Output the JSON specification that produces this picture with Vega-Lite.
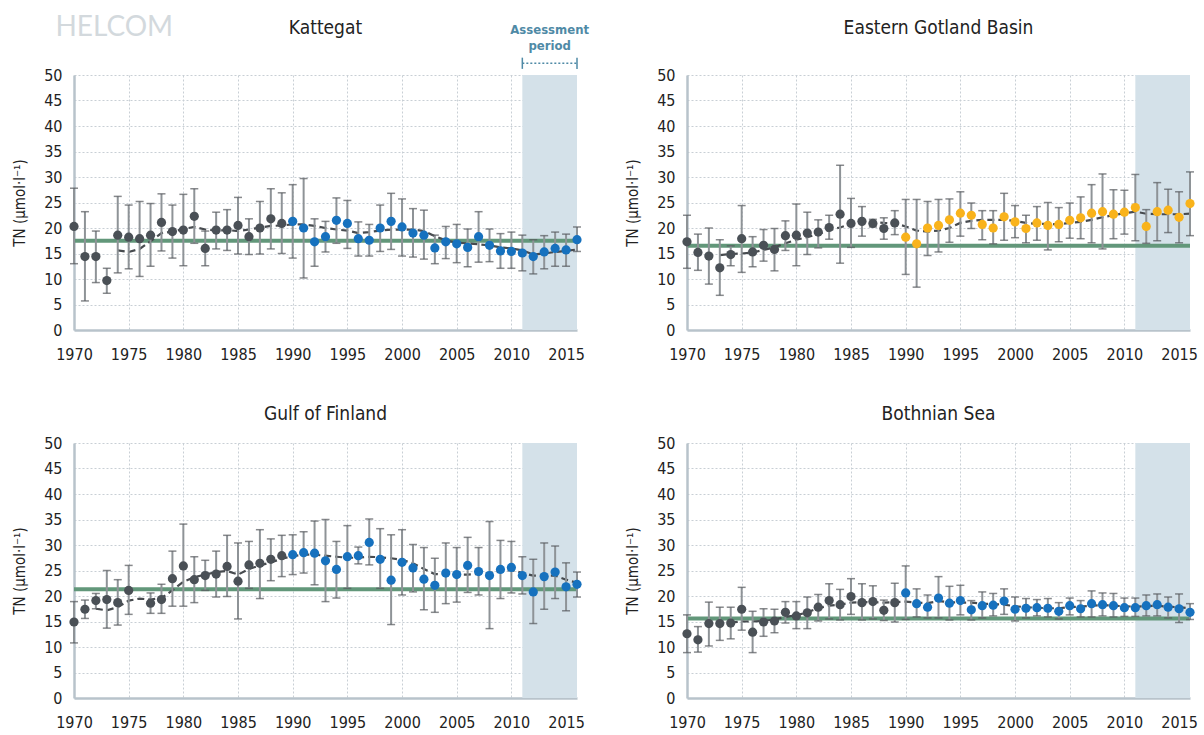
{
  "$schema": "https://vega.github.io/schema/vega-lite/v6.json",
  "padding": {"left": 12, "top": 14, "right": 5, "bottom": 5},
  "background": "white",
  "datasets": {
    "obs": [
      {"r":"K","y":1970,"v":20.3,"lo":13.0,"hi":27.8,"g":"a"},
      {"r":"K","y":1971,"v":14.4,"lo":5.7,"hi":23.2,"g":"a"},
      {"r":"K","y":1972,"v":14.4,"lo":9.3,"hi":19.4,"g":"a"},
      {"r":"K","y":1973,"v":9.7,"lo":7.2,"hi":12.1,"g":"a"},
      {"r":"K","y":1974,"v":18.6,"lo":11.2,"hi":26.2,"g":"a"},
      {"r":"K","y":1975,"v":18.2,"lo":12.0,"hi":24.5,"g":"a"},
      {"r":"K","y":1976,"v":17.9,"lo":10.5,"hi":25.2,"g":"a"},
      {"r":"K","y":1977,"v":18.6,"lo":12.5,"hi":24.8,"g":"a"},
      {"r":"K","y":1978,"v":21.1,"lo":15.5,"hi":26.7,"g":"a"},
      {"r":"K","y":1979,"v":19.3,"lo":14.1,"hi":24.5,"g":"a"},
      {"r":"K","y":1980,"v":19.6,"lo":12.6,"hi":26.6,"g":"a"},
      {"r":"K","y":1981,"v":22.3,"lo":17.0,"hi":27.7,"g":"a"},
      {"r":"K","y":1982,"v":16.0,"lo":12.6,"hi":19.4,"g":"a"},
      {"r":"K","y":1983,"v":19.6,"lo":15.9,"hi":23.1,"g":"a"},
      {"r":"K","y":1984,"v":19.6,"lo":15.6,"hi":23.6,"g":"a"},
      {"r":"K","y":1985,"v":20.5,"lo":14.9,"hi":26.0,"g":"a"},
      {"r":"K","y":1986,"v":18.3,"lo":14.8,"hi":21.8,"g":"a"},
      {"r":"K","y":1987,"v":20.0,"lo":14.9,"hi":25.2,"g":"a"},
      {"r":"K","y":1988,"v":21.8,"lo":15.9,"hi":27.7,"g":"a"},
      {"r":"K","y":1989,"v":20.9,"lo":15.0,"hi":26.9,"g":"a"},
      {"r":"K","y":1990,"v":21.3,"lo":14.1,"hi":28.5,"g":"b"},
      {"r":"K","y":1991,"v":20.0,"lo":10.2,"hi":29.7,"g":"b"},
      {"r":"K","y":1992,"v":17.3,"lo":12.5,"hi":21.8,"g":"b"},
      {"r":"K","y":1993,"v":18.3,"lo":15.3,"hi":21.3,"g":"b"},
      {"r":"K","y":1994,"v":21.5,"lo":17.0,"hi":25.9,"g":"b"},
      {"r":"K","y":1995,"v":20.9,"lo":16.0,"hi":25.4,"g":"b"},
      {"r":"K","y":1996,"v":17.9,"lo":14.5,"hi":21.2,"g":"b"},
      {"r":"K","y":1997,"v":17.6,"lo":14.5,"hi":20.7,"g":"b"},
      {"r":"K","y":1998,"v":20.0,"lo":15.4,"hi":24.5,"g":"b"},
      {"r":"K","y":1999,"v":21.3,"lo":15.8,"hi":26.8,"g":"b"},
      {"r":"K","y":2000,"v":20.2,"lo":14.5,"hi":25.7,"g":"b"},
      {"r":"K","y":2001,"v":19.0,"lo":14.3,"hi":23.8,"g":"b"},
      {"r":"K","y":2002,"v":18.6,"lo":13.9,"hi":23.5,"g":"b"},
      {"r":"K","y":2003,"v":16.1,"lo":13.0,"hi":18.6,"g":"b"},
      {"r":"K","y":2004,"v":17.3,"lo":14.0,"hi":20.3,"g":"b"},
      {"r":"K","y":2005,"v":16.9,"lo":13.2,"hi":20.7,"g":"b"},
      {"r":"K","y":2006,"v":16.2,"lo":12.4,"hi":19.8,"g":"b"},
      {"r":"K","y":2007,"v":18.3,"lo":13.3,"hi":23.2,"g":"b"},
      {"r":"K","y":2008,"v":16.6,"lo":13.4,"hi":19.8,"g":"b"},
      {"r":"K","y":2009,"v":15.5,"lo":12.1,"hi":18.9,"g":"b"},
      {"r":"K","y":2010,"v":15.4,"lo":12.1,"hi":19.2,"g":"b"},
      {"r":"K","y":2011,"v":15.1,"lo":11.6,"hi":18.6,"g":"b"},
      {"r":"K","y":2012,"v":14.4,"lo":11.0,"hi":17.7,"g":"b"},
      {"r":"K","y":2013,"v":15.3,"lo":12.0,"hi":18.5,"g":"b"},
      {"r":"K","y":2014,"v":16.0,"lo":12.5,"hi":19.2,"g":"b"},
      {"r":"K","y":2015,"v":15.7,"lo":12.5,"hi":18.8,"g":"b"},
      {"r":"K","y":2016,"v":17.7,"lo":15.4,"hi":20.2,"g":"b"},

      {"r":"E","y":1970,"v":17.3,"lo":12.1,"hi":22.5,"g":"a"},
      {"r":"E","y":1971,"v":15.2,"lo":11.7,"hi":18.8,"g":"a"},
      {"r":"E","y":1972,"v":14.5,"lo":9.0,"hi":20.0,"g":"a"},
      {"r":"E","y":1973,"v":12.2,"lo":6.8,"hi":17.7,"g":"a"},
      {"r":"E","y":1974,"v":14.8,"lo":12.6,"hi":16.5,"g":"a"},
      {"r":"E","y":1975,"v":17.9,"lo":11.3,"hi":24.4,"g":"a"},
      {"r":"E","y":1976,"v":15.3,"lo":12.4,"hi":18.3,"g":"a"},
      {"r":"E","y":1977,"v":16.6,"lo":13.5,"hi":19.7,"g":"a"},
      {"r":"E","y":1978,"v":15.8,"lo":11.6,"hi":19.9,"g":"a"},
      {"r":"E","y":1979,"v":18.5,"lo":15.6,"hi":21.4,"g":"a"},
      {"r":"E","y":1980,"v":18.6,"lo":12.6,"hi":24.7,"g":"a"},
      {"r":"E","y":1981,"v":19.0,"lo":14.8,"hi":23.1,"g":"a"},
      {"r":"E","y":1982,"v":19.2,"lo":16.1,"hi":21.6,"g":"a"},
      {"r":"E","y":1983,"v":20.1,"lo":17.8,"hi":22.5,"g":"a"},
      {"r":"E","y":1984,"v":22.7,"lo":13.1,"hi":32.3,"g":"a"},
      {"r":"E","y":1985,"v":20.9,"lo":16.2,"hi":25.8,"g":"a"},
      {"r":"E","y":1986,"v":21.3,"lo":18.4,"hi":24.2,"g":"a"},
      {"r":"E","y":1987,"v":20.9,"lo":20.2,"hi":21.7,"g":"a"},
      {"r":"E","y":1988,"v":19.9,"lo":17.8,"hi":22.0,"g":"a"},
      {"r":"E","y":1989,"v":21.0,"lo":18.7,"hi":23.4,"g":"a"},
      {"r":"E","y":1990,"v":18.2,"lo":10.9,"hi":25.6,"g":"c"},
      {"r":"E","y":1991,"v":16.9,"lo":8.4,"hi":25.6,"g":"c"},
      {"r":"E","y":1992,"v":20.0,"lo":14.6,"hi":25.2,"g":"c"},
      {"r":"E","y":1993,"v":20.5,"lo":15.3,"hi":25.6,"g":"c"},
      {"r":"E","y":1994,"v":21.6,"lo":17.2,"hi":25.7,"g":"c"},
      {"r":"E","y":1995,"v":22.9,"lo":18.4,"hi":27.1,"g":"c"},
      {"r":"E","y":1996,"v":22.5,"lo":19.9,"hi":24.9,"g":"c"},
      {"r":"E","y":1997,"v":20.7,"lo":17.7,"hi":23.4,"g":"c"},
      {"r":"E","y":1998,"v":20.0,"lo":16.9,"hi":23.4,"g":"c"},
      {"r":"E","y":1999,"v":22.2,"lo":17.6,"hi":26.8,"g":"c"},
      {"r":"E","y":2000,"v":21.2,"lo":18.1,"hi":24.4,"g":"c"},
      {"r":"E","y":2001,"v":19.9,"lo":17.1,"hi":22.5,"g":"c"},
      {"r":"E","y":2002,"v":21.0,"lo":17.6,"hi":24.2,"g":"c"},
      {"r":"E","y":2003,"v":20.5,"lo":15.7,"hi":25.0,"g":"c"},
      {"r":"E","y":2004,"v":20.7,"lo":17.3,"hi":24.0,"g":"c"},
      {"r":"E","y":2005,"v":21.5,"lo":18.0,"hi":24.9,"g":"c"},
      {"r":"E","y":2006,"v":22.0,"lo":17.9,"hi":26.1,"g":"c"},
      {"r":"E","y":2007,"v":22.9,"lo":17.1,"hi":28.5,"g":"c"},
      {"r":"E","y":2008,"v":23.2,"lo":15.9,"hi":30.6,"g":"c"},
      {"r":"E","y":2009,"v":22.7,"lo":17.9,"hi":27.5,"g":"c"},
      {"r":"E","y":2010,"v":23.1,"lo":18.8,"hi":27.4,"g":"c"},
      {"r":"E","y":2011,"v":24.0,"lo":17.5,"hi":30.5,"g":"c"},
      {"r":"E","y":2012,"v":20.3,"lo":17.0,"hi":23.6,"g":"c"},
      {"r":"E","y":2013,"v":23.2,"lo":17.5,"hi":28.9,"g":"c"},
      {"r":"E","y":2014,"v":23.5,"lo":19.1,"hi":27.6,"g":"c"},
      {"r":"E","y":2015,"v":22.1,"lo":17.1,"hi":27.1,"g":"c"},
      {"r":"E","y":2016,"v":24.8,"lo":18.5,"hi":31.0,"g":"c"},

      {"r":"G","y":1970,"v":14.9,"lo":10.8,"hi":18.9,"g":"a"},
      {"r":"G","y":1971,"v":17.4,"lo":15.6,"hi":19.2,"g":"a"},
      {"r":"G","y":1972,"v":19.1,"lo":17.5,"hi":20.5,"g":"a"},
      {"r":"G","y":1973,"v":19.3,"lo":13.7,"hi":25.0,"g":"a"},
      {"r":"G","y":1974,"v":18.7,"lo":14.3,"hi":23.2,"g":"a"},
      {"r":"G","y":1975,"v":21.1,"lo":16.4,"hi":26.0,"g":"a"},
      {"r":"G","y":1977,"v":18.6,"lo":16.6,"hi":20.6,"g":"a"},
      {"r":"G","y":1978,"v":19.3,"lo":16.6,"hi":22.3,"g":"a"},
      {"r":"G","y":1979,"v":23.4,"lo":18.0,"hi":28.8,"g":"a"},
      {"r":"G","y":1980,"v":25.9,"lo":18.0,"hi":34.1,"g":"a"},
      {"r":"G","y":1981,"v":23.2,"lo":18.7,"hi":27.7,"g":"a"},
      {"r":"G","y":1982,"v":24.0,"lo":21.1,"hi":27.0,"g":"a"},
      {"r":"G","y":1983,"v":24.3,"lo":19.8,"hi":28.8,"g":"a"},
      {"r":"G","y":1984,"v":25.8,"lo":19.9,"hi":31.9,"g":"a"},
      {"r":"G","y":1985,"v":22.9,"lo":15.5,"hi":30.4,"g":"a"},
      {"r":"G","y":1986,"v":26.1,"lo":21.5,"hi":30.7,"g":"a"},
      {"r":"G","y":1987,"v":26.4,"lo":19.5,"hi":33.0,"g":"a"},
      {"r":"G","y":1988,"v":27.2,"lo":23.0,"hi":31.2,"g":"a"},
      {"r":"G","y":1989,"v":27.9,"lo":23.8,"hi":31.9,"g":"a"},
      {"r":"G","y":1990,"v":28.1,"lo":24.2,"hi":32.0,"g":"b"},
      {"r":"G","y":1991,"v":28.5,"lo":24.5,"hi":32.6,"g":"b"},
      {"r":"G","y":1992,"v":28.4,"lo":22.2,"hi":34.7,"g":"b"},
      {"r":"G","y":1993,"v":26.9,"lo":18.9,"hi":35.0,"g":"b"},
      {"r":"G","y":1994,"v":25.2,"lo":19.6,"hi":30.7,"g":"b"},
      {"r":"G","y":1995,"v":27.7,"lo":21.5,"hi":33.8,"g":"b"},
      {"r":"G","y":1996,"v":27.9,"lo":26.3,"hi":29.6,"g":"b"},
      {"r":"G","y":1997,"v":30.5,"lo":26.1,"hi":35.1,"g":"b"},
      {"r":"G","y":1998,"v":27.2,"lo":21.5,"hi":33.2,"g":"b"},
      {"r":"G","y":1999,"v":23.1,"lo":14.4,"hi":32.0,"g":"b"},
      {"r":"G","y":2000,"v":26.6,"lo":20.2,"hi":33.0,"g":"b"},
      {"r":"G","y":2001,"v":25.5,"lo":20.8,"hi":30.1,"g":"b"},
      {"r":"G","y":2002,"v":23.3,"lo":17.3,"hi":29.5,"g":"b"},
      {"r":"G","y":2003,"v":22.1,"lo":16.8,"hi":27.4,"g":"b"},
      {"r":"G","y":2004,"v":24.5,"lo":18.5,"hi":30.4,"g":"b"},
      {"r":"G","y":2005,"v":24.2,"lo":18.8,"hi":29.5,"g":"b"},
      {"r":"G","y":2006,"v":26.0,"lo":20.7,"hi":31.5,"g":"b"},
      {"r":"G","y":2007,"v":24.8,"lo":20.2,"hi":29.5,"g":"b"},
      {"r":"G","y":2008,"v":24.0,"lo":13.6,"hi":34.6,"g":"b"},
      {"r":"G","y":2009,"v":25.2,"lo":19.5,"hi":30.9,"g":"b"},
      {"r":"G","y":2010,"v":25.6,"lo":20.6,"hi":30.7,"g":"b"},
      {"r":"G","y":2011,"v":24.0,"lo":20.4,"hi":27.7,"g":"b"},
      {"r":"G","y":2012,"v":20.8,"lo":14.6,"hi":27.2,"g":"b"},
      {"r":"G","y":2013,"v":23.8,"lo":17.4,"hi":30.4,"g":"b"},
      {"r":"G","y":2014,"v":24.7,"lo":19.5,"hi":29.8,"g":"b"},
      {"r":"G","y":2015,"v":21.8,"lo":17.1,"hi":26.5,"g":"b"},
      {"r":"G","y":2016,"v":22.3,"lo":19.8,"hi":24.7,"g":"b"},

      {"r":"B","y":1970,"v":12.6,"lo":8.9,"hi":16.3,"g":"a"},
      {"r":"B","y":1971,"v":11.4,"lo":9.0,"hi":14.0,"g":"a"},
      {"r":"B","y":1972,"v":14.6,"lo":10.2,"hi":18.8,"g":"a"},
      {"r":"B","y":1973,"v":14.6,"lo":11.3,"hi":17.8,"g":"a"},
      {"r":"B","y":1974,"v":14.7,"lo":11.6,"hi":17.8,"g":"a"},
      {"r":"B","y":1975,"v":17.4,"lo":13.3,"hi":21.7,"g":"a"},
      {"r":"B","y":1976,"v":12.9,"lo":8.9,"hi":17.0,"g":"a"},
      {"r":"B","y":1977,"v":14.9,"lo":12.1,"hi":17.5,"g":"a"},
      {"r":"B","y":1978,"v":15.1,"lo":12.8,"hi":17.4,"g":"a"},
      {"r":"B","y":1979,"v":16.8,"lo":14.7,"hi":18.9,"g":"a"},
      {"r":"B","y":1980,"v":16.1,"lo":13.6,"hi":18.9,"g":"a"},
      {"r":"B","y":1981,"v":16.7,"lo":13.6,"hi":19.8,"g":"a"},
      {"r":"B","y":1982,"v":17.8,"lo":15.1,"hi":20.3,"g":"a"},
      {"r":"B","y":1983,"v":19.1,"lo":15.5,"hi":22.4,"g":"a"},
      {"r":"B","y":1984,"v":18.3,"lo":15.3,"hi":21.3,"g":"a"},
      {"r":"B","y":1985,"v":19.9,"lo":16.4,"hi":23.4,"g":"a"},
      {"r":"B","y":1986,"v":18.7,"lo":15.3,"hi":22.4,"g":"a"},
      {"r":"B","y":1987,"v":18.9,"lo":15.5,"hi":22.0,"g":"a"},
      {"r":"B","y":1988,"v":17.2,"lo":15.2,"hi":19.2,"g":"a"},
      {"r":"B","y":1989,"v":18.7,"lo":14.9,"hi":22.5,"g":"a"},
      {"r":"B","y":1990,"v":20.6,"lo":15.4,"hi":25.9,"g":"b"},
      {"r":"B","y":1991,"v":18.5,"lo":15.9,"hi":21.4,"g":"b"},
      {"r":"B","y":1992,"v":17.8,"lo":15.7,"hi":20.2,"g":"b"},
      {"r":"B","y":1993,"v":19.6,"lo":15.7,"hi":23.8,"g":"b"},
      {"r":"B","y":1994,"v":18.6,"lo":15.3,"hi":21.9,"g":"b"},
      {"r":"B","y":1995,"v":19.1,"lo":16.3,"hi":22.1,"g":"b"},
      {"r":"B","y":1996,"v":17.3,"lo":15.3,"hi":19.1,"g":"b"},
      {"r":"B","y":1997,"v":18.1,"lo":15.7,"hi":20.8,"g":"b"},
      {"r":"B","y":1998,"v":18.2,"lo":16.1,"hi":20.5,"g":"b"},
      {"r":"B","y":1999,"v":19.0,"lo":16.4,"hi":21.4,"g":"b"},
      {"r":"B","y":2000,"v":17.4,"lo":15.1,"hi":19.8,"g":"b"},
      {"r":"B","y":2001,"v":17.6,"lo":15.7,"hi":19.5,"g":"b"},
      {"r":"B","y":2002,"v":17.7,"lo":16.1,"hi":19.3,"g":"b"},
      {"r":"B","y":2003,"v":17.6,"lo":15.9,"hi":19.5,"g":"b"},
      {"r":"B","y":2004,"v":17.0,"lo":15.5,"hi":18.7,"g":"b"},
      {"r":"B","y":2005,"v":18.1,"lo":16.3,"hi":19.6,"g":"b"},
      {"r":"B","y":2006,"v":17.5,"lo":15.9,"hi":19.1,"g":"b"},
      {"r":"B","y":2007,"v":18.5,"lo":15.9,"hi":21.0,"g":"b"},
      {"r":"B","y":2008,"v":18.3,"lo":16.1,"hi":20.6,"g":"b"},
      {"r":"B","y":2009,"v":18.1,"lo":15.9,"hi":20.5,"g":"b"},
      {"r":"B","y":2010,"v":17.7,"lo":16.0,"hi":19.6,"g":"b"},
      {"r":"B","y":2011,"v":17.7,"lo":16.0,"hi":19.6,"g":"b"},
      {"r":"B","y":2012,"v":18.1,"lo":16.1,"hi":20.2,"g":"b"},
      {"r":"B","y":2013,"v":18.3,"lo":16.1,"hi":20.4,"g":"b"},
      {"r":"B","y":2014,"v":17.8,"lo":15.7,"hi":19.8,"g":"b"},
      {"r":"B","y":2015,"v":17.5,"lo":14.8,"hi":20.4,"g":"b"},
      {"r":"B","y":2016,"v":16.8,"lo":15.4,"hi":18.5,"g":"b"}
    ],
    "trend": [
      {"r":"K","y":1974,"t":15.6},{"r":"K","y":1975,"t":15.3},{"r":"K","y":1976,"t":15.9},{"r":"K","y":1977,"t":17.4},{"r":"K","y":1978,"t":19.0},{"r":"K","y":1979,"t":19.3},{"r":"K","y":1980,"t":19.8},{"r":"K","y":1981,"t":20.2},{"r":"K","y":1982,"t":19.7},{"r":"K","y":1983,"t":19.5},{"r":"K","y":1984,"t":19.6},{"r":"K","y":1985,"t":19.4},{"r":"K","y":1986,"t":19.7},{"r":"K","y":1987,"t":20.1},{"r":"K","y":1988,"t":20.4},{"r":"K","y":1989,"t":20.5},{"r":"K","y":1990,"t":20.7},{"r":"K","y":1991,"t":20.7},{"r":"K","y":1992,"t":20.4},{"r":"K","y":1993,"t":20.0},{"r":"K","y":1994,"t":19.7},{"r":"K","y":1995,"t":19.5},{"r":"K","y":1996,"t":19.0},{"r":"K","y":1997,"t":19.2},{"r":"K","y":1998,"t":19.5},{"r":"K","y":1999,"t":19.7},{"r":"K","y":2000,"t":19.7},{"r":"K","y":2001,"t":19.7},{"r":"K","y":2002,"t":19.4},{"r":"K","y":2003,"t":18.4},{"r":"K","y":2004,"t":17.6},{"r":"K","y":2005,"t":17.1},{"r":"K","y":2006,"t":17.0},{"r":"K","y":2007,"t":16.8},{"r":"K","y":2008,"t":16.6},{"r":"K","y":2009,"t":16.2},{"r":"K","y":2010,"t":16.0},{"r":"K","y":2011,"t":15.6},{"r":"K","y":2012,"t":14.8},{"r":"K","y":2013,"t":15.0},{"r":"K","y":2014,"t":15.3},{"r":"K","y":2015,"t":15.5},{"r":"K","y":2016,"t":15.8},
      {"r":"E","y":1973,"t":14.7},{"r":"E","y":1974,"t":14.9},{"r":"E","y":1975,"t":15.0},{"r":"E","y":1976,"t":15.2},{"r":"E","y":1977,"t":15.7},{"r":"E","y":1978,"t":16.2},{"r":"E","y":1979,"t":17.0},{"r":"E","y":1980,"t":17.7},{"r":"E","y":1981,"t":18.2},{"r":"E","y":1982,"t":18.8},{"r":"E","y":1983,"t":19.6},{"r":"E","y":1984,"t":20.1},{"r":"E","y":1985,"t":20.8},{"r":"E","y":1986,"t":21.2},{"r":"E","y":1987,"t":21.2},{"r":"E","y":1988,"t":21.0},{"r":"E","y":1989,"t":20.9},{"r":"E","y":1990,"t":20.3},{"r":"E","y":1991,"t":19.5},{"r":"E","y":1992,"t":19.3},{"r":"E","y":1993,"t":19.5},{"r":"E","y":1994,"t":20.0},{"r":"E","y":1995,"t":21.0},{"r":"E","y":1996,"t":21.4},{"r":"E","y":1997,"t":21.6},{"r":"E","y":1998,"t":21.6},{"r":"E","y":1999,"t":21.6},{"r":"E","y":2000,"t":21.4},{"r":"E","y":2001,"t":21.0},{"r":"E","y":2002,"t":20.8},{"r":"E","y":2003,"t":20.8},{"r":"E","y":2004,"t":20.7},{"r":"E","y":2005,"t":21.0},{"r":"E","y":2006,"t":21.2},{"r":"E","y":2007,"t":21.6},{"r":"E","y":2008,"t":22.1},{"r":"E","y":2009,"t":22.5},{"r":"E","y":2010,"t":22.9},{"r":"E","y":2011,"t":23.2},{"r":"E","y":2012,"t":22.8},{"r":"E","y":2013,"t":22.7},{"r":"E","y":2014,"t":22.7},{"r":"E","y":2015,"t":22.7},{"r":"E","y":2016,"t":22.8},
      {"r":"G","y":1972,"t":17.5},{"r":"G","y":1973,"t":17.2},{"r":"G","y":1974,"t":17.8},{"r":"G","y":1975,"t":19.1},{"r":"G","y":1976,"t":19.5},{"r":"G","y":1977,"t":19.3},{"r":"G","y":1978,"t":19.6},{"r":"G","y":1979,"t":21.1},{"r":"G","y":1980,"t":22.8},{"r":"G","y":1981,"t":23.7},{"r":"G","y":1982,"t":24.2},{"r":"G","y":1983,"t":24.7},{"r":"G","y":1984,"t":24.9},{"r":"G","y":1985,"t":24.2},{"r":"G","y":1986,"t":25.3},{"r":"G","y":1987,"t":26.0},{"r":"G","y":1988,"t":26.6},{"r":"G","y":1989,"t":27.3},{"r":"G","y":1990,"t":27.8},{"r":"G","y":1991,"t":28.1},{"r":"G","y":1992,"t":28.1},{"r":"G","y":1993,"t":27.9},{"r":"G","y":1994,"t":27.7},{"r":"G","y":1995,"t":27.5},{"r":"G","y":1996,"t":27.5},{"r":"G","y":1997,"t":27.7},{"r":"G","y":1998,"t":27.6},{"r":"G","y":1999,"t":27.4},{"r":"G","y":2000,"t":27.1},{"r":"G","y":2001,"t":26.4},{"r":"G","y":2002,"t":25.3},{"r":"G","y":2003,"t":24.3},{"r":"G","y":2004,"t":24.2},{"r":"G","y":2005,"t":24.2},{"r":"G","y":2006,"t":24.2},{"r":"G","y":2007,"t":24.3},{"r":"G","y":2008,"t":24.5},{"r":"G","y":2009,"t":24.8},{"r":"G","y":2010,"t":25.1},{"r":"G","y":2011,"t":24.5},{"r":"G","y":2012,"t":24.0},{"r":"G","y":2013,"t":24.0},{"r":"G","y":2014,"t":24.0},{"r":"G","y":2015,"t":23.2},{"r":"G","y":2016,"t":22.6},
      {"r":"B","y":1974,"t":14.8},{"r":"B","y":1975,"t":15.0},{"r":"B","y":1976,"t":15.0},{"r":"B","y":1977,"t":15.1},{"r":"B","y":1978,"t":15.4},{"r":"B","y":1979,"t":15.9},{"r":"B","y":1980,"t":16.2},{"r":"B","y":1981,"t":16.8},{"r":"B","y":1982,"t":17.6},{"r":"B","y":1983,"t":18.1},{"r":"B","y":1984,"t":18.3},{"r":"B","y":1985,"t":18.7},{"r":"B","y":1986,"t":18.8},{"r":"B","y":1987,"t":18.8},{"r":"B","y":1988,"t":18.7},{"r":"B","y":1989,"t":18.8},{"r":"B","y":1990,"t":18.9},{"r":"B","y":1991,"t":18.7},{"r":"B","y":1992,"t":18.6},{"r":"B","y":1993,"t":19.0},{"r":"B","y":1994,"t":18.8},{"r":"B","y":1995,"t":18.7},{"r":"B","y":1996,"t":18.7},{"r":"B","y":1997,"t":18.5},{"r":"B","y":1998,"t":18.4},{"r":"B","y":1999,"t":18.3},{"r":"B","y":2000,"t":18.0},{"r":"B","y":2001,"t":17.8},{"r":"B","y":2002,"t":17.7},{"r":"B","y":2003,"t":17.6},{"r":"B","y":2004,"t":17.6},{"r":"B","y":2005,"t":17.8},{"r":"B","y":2006,"t":17.9},{"r":"B","y":2007,"t":18.1},{"r":"B","y":2008,"t":18.2},{"r":"B","y":2009,"t":18.1},{"r":"B","y":2010,"t":18.0},{"r":"B","y":2011,"t":17.9},{"r":"B","y":2012,"t":18.0},{"r":"B","y":2013,"t":18.1},{"r":"B","y":2014,"t":17.9},{"r":"B","y":2015,"t":17.8},{"r":"B","y":2016,"t":17.6}
    ],
    "thr": [
      {"r":"K","v":17.5},{"r":"E","v":16.5},{"r":"G","v":21.3},{"r":"B","v":15.6}
    ]
  },
  "columns": 2,
  "spacing": {"row": 42, "column": 35},
  "concat": [
    {
      "width": 503, "height": 255,
      "layer": [
        {"data": {"values": [{}]}, "mark": {"type": "rect", "color": "#d4e1e9"},
         "encoding": {"x": {"datum": 2011, "type": "quantitative", "scale": {"domain": [1970, 2016], "nice": false, "zero": false}, "axis": {"values": [1970,1975,1980,1985,1990,1995,2000,2005,2010,2015], "format": "d", "title": null}}, "x2": {"datum": 2016}}},
        {"data": {"name": "thr"}, "transform": [{"filter": "datum.r == 'K'"}], "mark": {"type": "rule", "color": "#62977a", "strokeWidth": 4},
         "encoding": {"y": {"field": "v", "type": "quantitative", "scale": {"domain": [0, 50], "nice": false, "zero": false}, "axis": {"values": [0,5,10,15,20,25,30,35,40,45,50], "title": "TN (µmol·l⁻¹)"}}}},
        {"data": {"name": "trend"}, "transform": [{"filter": "datum.r == 'K'"}], "mark": {"type": "line", "color": "#474b4f", "strokeWidth": 2.2, "strokeDash": [7, 4]},
         "encoding": {"x": {"field": "y", "type": "quantitative", "scale": {"domain": [1970, 2016], "nice": false, "zero": false}, "axis": {"values": [1970,1975,1980,1985,1990,1995,2000,2005,2010,2015], "format": "d", "title": null}}, "y": {"field": "t", "type": "quantitative", "scale": {"domain": [0, 50], "nice": false, "zero": false}, "axis": {"values": [0,5,10,15,20,25,30,35,40,45,50], "title": "TN (µmol·l⁻¹)"}}}},
        {"data": {"name": "obs"}, "transform": [{"filter": "datum.r == 'K'"}], "mark": {"type": "rule", "color": "#8e9397", "strokeWidth": 2},
         "encoding": {"x": {"field": "y", "type": "quantitative", "scale": {"domain": [1970, 2016], "nice": false, "zero": false}, "axis": {"values": [1970,1975,1980,1985,1990,1995,2000,2005,2010,2015], "format": "d", "title": null}}, "y": {"field": "lo", "type": "quantitative", "scale": {"domain": [0, 50], "nice": false, "zero": false}, "axis": {"values": [0,5,10,15,20,25,30,35,40,45,50], "title": "TN (µmol·l⁻¹)"}}, "y2": {"field": "hi"}}},
        {"data": {"name": "obs"}, "transform": [{"filter": "datum.r == 'K'"}], "mark": {"type": "tick", "orient": "horizontal", "color": "#55595d", "thickness": 1.5, "size": 8},
         "encoding": {"x": {"field": "y", "type": "quantitative", "scale": {"domain": [1970, 2016], "nice": false, "zero": false}, "axis": {"values": [1970,1975,1980,1985,1990,1995,2000,2005,2010,2015], "format": "d", "title": null}}, "y": {"field": "lo", "type": "quantitative", "scale": {"domain": [0, 50], "nice": false, "zero": false}, "axis": {"values": [0,5,10,15,20,25,30,35,40,45,50], "title": "TN (µmol·l⁻¹)"}}}},
        {"data": {"name": "obs"}, "transform": [{"filter": "datum.r == 'K'"}], "mark": {"type": "tick", "orient": "horizontal", "color": "#55595d", "thickness": 1.5, "size": 8},
         "encoding": {"x": {"field": "y", "type": "quantitative", "scale": {"domain": [1970, 2016], "nice": false, "zero": false}, "axis": {"values": [1970,1975,1980,1985,1990,1995,2000,2005,2010,2015], "format": "d", "title": null}}, "y": {"field": "hi", "type": "quantitative", "scale": {"domain": [0, 50], "nice": false, "zero": false}, "axis": {"values": [0,5,10,15,20,25,30,35,40,45,50], "title": "TN (µmol·l⁻¹)"}}}},
        {"data": {"name": "obs"}, "transform": [{"filter": "datum.r == 'K'"}], "mark": {"type": "circle", "size": 85, "opacity": 1},
         "encoding": {
           "x": {"field": "y", "type": "quantitative", "scale": {"domain": [1970, 2016], "nice": false, "zero": false}, "axis": {"values": [1970,1975,1980,1985,1990,1995,2000,2005,2010,2015], "format": "d", "title": null}},
           "y": {"field": "v", "type": "quantitative", "scale": {"domain": [0, 50], "nice": false, "zero": false}, "axis": {"values": [0,5,10,15,20,25,30,35,40,45,50], "title": "TN (µmol·l⁻¹)"}},
           "color": {"field": "g", "type": "nominal", "scale": {"domain": ["a","b","c"], "range": ["#4a5056","#1671be","#f9b31b"]}, "legend": null}}},
        {"data": {"values": [{}]}, "mark": {"type": "text", "text": "Kattegat", "fontSize": 19, "fontWeight": 500, "color": "#222222", "baseline": "middle"},
         "encoding": {"x": {"datum": 1993, "type": "quantitative", "scale": {"domain": [1970, 2016], "nice": false, "zero": false}, "axis": {"values": [1970,1975,1980,1985,1990,1995,2000,2005,2010,2015], "format": "d", "title": null}}, "y": {"datum": 59.2, "type": "quantitative", "scale": {"domain": [0, 50], "nice": false, "zero": false}, "axis": {"values": [0,5,10,15,20,25,30,35,40,45,50], "title": "TN (µmol·l⁻¹)"}}}},
        {"data": {"values": [{}]}, "mark": {"type": "text", "text": "Assessment", "fontWeight": "bold", "fontSize": 13, "color": "#4f8aa6", "baseline": "middle"},
         "encoding": {"x": {"datum": 2013.5, "type": "quantitative", "scale": {"domain": [1970, 2016], "nice": false, "zero": false}, "axis": {"values": [1970,1975,1980,1985,1990,1995,2000,2005,2010,2015], "format": "d", "title": null}}, "y": {"datum": 58.8, "type": "quantitative", "scale": {"domain": [0, 50], "nice": false, "zero": false}, "axis": {"values": [0,5,10,15,20,25,30,35,40,45,50], "title": "TN (µmol·l⁻¹)"}}}},
        {"data": {"values": [{}]}, "mark": {"type": "text", "text": "period", "fontWeight": "bold", "fontSize": 13, "color": "#4f8aa6", "baseline": "middle"},
         "encoding": {"x": {"datum": 2013.5, "type": "quantitative", "scale": {"domain": [1970, 2016], "nice": false, "zero": false}, "axis": {"values": [1970,1975,1980,1985,1990,1995,2000,2005,2010,2015], "format": "d", "title": null}}, "y": {"datum": 55.6, "type": "quantitative", "scale": {"domain": [0, 50], "nice": false, "zero": false}, "axis": {"values": [0,5,10,15,20,25,30,35,40,45,50], "title": "TN (µmol·l⁻¹)"}}}},
        {"data": {"values": [{}]}, "mark": {"type": "rule", "color": "#4f8aa6", "strokeWidth": 1.5, "strokeDash": [2, 2]},
         "encoding": {"x": {"datum": 2011, "type": "quantitative", "scale": {"domain": [1970, 2016], "nice": false, "zero": false}, "axis": {"values": [1970,1975,1980,1985,1990,1995,2000,2005,2010,2015], "format": "d", "title": null}}, "x2": {"datum": 2016}, "y": {"datum": 52.3, "type": "quantitative", "scale": {"domain": [0, 50], "nice": false, "zero": false}, "axis": {"values": [0,5,10,15,20,25,30,35,40,45,50], "title": "TN (µmol·l⁻¹)"}}}},
        {"data": {"values": [{}]}, "mark": {"type": "rule", "color": "#4f8aa6", "strokeWidth": 1.5},
         "encoding": {"x": {"datum": 2011, "type": "quantitative", "scale": {"domain": [1970, 2016], "nice": false, "zero": false}, "axis": {"values": [1970,1975,1980,1985,1990,1995,2000,2005,2010,2015], "format": "d", "title": null}}, "y": {"datum": 51.2, "type": "quantitative", "scale": {"domain": [0, 50], "nice": false, "zero": false}, "axis": {"values": [0,5,10,15,20,25,30,35,40,45,50], "title": "TN (µmol·l⁻¹)"}}, "y2": {"datum": 53.4}}},
        {"data": {"values": [{}]}, "mark": {"type": "rule", "color": "#4f8aa6", "strokeWidth": 1.5},
         "encoding": {"x": {"datum": 2016, "type": "quantitative", "scale": {"domain": [1970, 2016], "nice": false, "zero": false}, "axis": {"values": [1970,1975,1980,1985,1990,1995,2000,2005,2010,2015], "format": "d", "title": null}}, "y": {"datum": 51.2, "type": "quantitative", "scale": {"domain": [0, 50], "nice": false, "zero": false}, "axis": {"values": [0,5,10,15,20,25,30,35,40,45,50], "title": "TN (µmol·l⁻¹)"}}, "y2": {"datum": 53.4}}},
        {"data": {"values": [{}]}, "mark": {"type": "text", "text": "HELCOM", "fontSize": 28, "font": "Lato", "color": "#d3d9dd", "align": "left", "baseline": "middle"},
         "encoding": {"x": {"datum": 1968.3, "type": "quantitative", "scale": {"domain": [1970, 2016], "nice": false, "zero": false}, "axis": {"values": [1970,1975,1980,1985,1990,1995,2000,2005,2010,2015], "format": "d", "title": null}}, "y": {"datum": 59.2, "type": "quantitative", "scale": {"domain": [0, 50], "nice": false, "zero": false}, "axis": {"values": [0,5,10,15,20,25,30,35,40,45,50], "title": "TN (µmol·l⁻¹)"}}}}
      ]
    },
    {
      "width": 503, "height": 255,
      "layer": [
        {"data": {"values": [{}]}, "mark": {"type": "rect", "color": "#d4e1e9"},
         "encoding": {"x": {"datum": 2011, "type": "quantitative", "scale": {"domain": [1970, 2016], "nice": false, "zero": false}, "axis": {"values": [1970,1975,1980,1985,1990,1995,2000,2005,2010,2015], "format": "d", "title": null}}, "x2": {"datum": 2016}}},
        {"data": {"name": "thr"}, "transform": [{"filter": "datum.r == 'E'"}], "mark": {"type": "rule", "color": "#62977a", "strokeWidth": 4},
         "encoding": {"y": {"field": "v", "type": "quantitative", "scale": {"domain": [0, 50], "nice": false, "zero": false}, "axis": {"values": [0,5,10,15,20,25,30,35,40,45,50], "title": "TN (µmol·l⁻¹)"}}}},
        {"data": {"name": "trend"}, "transform": [{"filter": "datum.r == 'E'"}], "mark": {"type": "line", "color": "#474b4f", "strokeWidth": 2.2, "strokeDash": [7, 4]},
         "encoding": {"x": {"field": "y", "type": "quantitative", "scale": {"domain": [1970, 2016], "nice": false, "zero": false}, "axis": {"values": [1970,1975,1980,1985,1990,1995,2000,2005,2010,2015], "format": "d", "title": null}}, "y": {"field": "t", "type": "quantitative", "scale": {"domain": [0, 50], "nice": false, "zero": false}, "axis": {"values": [0,5,10,15,20,25,30,35,40,45,50], "title": "TN (µmol·l⁻¹)"}}}},
        {"data": {"name": "obs"}, "transform": [{"filter": "datum.r == 'E'"}], "mark": {"type": "rule", "color": "#8e9397", "strokeWidth": 2},
         "encoding": {"x": {"field": "y", "type": "quantitative", "scale": {"domain": [1970, 2016], "nice": false, "zero": false}, "axis": {"values": [1970,1975,1980,1985,1990,1995,2000,2005,2010,2015], "format": "d", "title": null}}, "y": {"field": "lo", "type": "quantitative", "scale": {"domain": [0, 50], "nice": false, "zero": false}, "axis": {"values": [0,5,10,15,20,25,30,35,40,45,50], "title": "TN (µmol·l⁻¹)"}}, "y2": {"field": "hi"}}},
        {"data": {"name": "obs"}, "transform": [{"filter": "datum.r == 'E'"}], "mark": {"type": "tick", "orient": "horizontal", "color": "#55595d", "thickness": 1.5, "size": 8},
         "encoding": {"x": {"field": "y", "type": "quantitative", "scale": {"domain": [1970, 2016], "nice": false, "zero": false}, "axis": {"values": [1970,1975,1980,1985,1990,1995,2000,2005,2010,2015], "format": "d", "title": null}}, "y": {"field": "lo", "type": "quantitative", "scale": {"domain": [0, 50], "nice": false, "zero": false}, "axis": {"values": [0,5,10,15,20,25,30,35,40,45,50], "title": "TN (µmol·l⁻¹)"}}}},
        {"data": {"name": "obs"}, "transform": [{"filter": "datum.r == 'E'"}], "mark": {"type": "tick", "orient": "horizontal", "color": "#55595d", "thickness": 1.5, "size": 8},
         "encoding": {"x": {"field": "y", "type": "quantitative", "scale": {"domain": [1970, 2016], "nice": false, "zero": false}, "axis": {"values": [1970,1975,1980,1985,1990,1995,2000,2005,2010,2015], "format": "d", "title": null}}, "y": {"field": "hi", "type": "quantitative", "scale": {"domain": [0, 50], "nice": false, "zero": false}, "axis": {"values": [0,5,10,15,20,25,30,35,40,45,50], "title": "TN (µmol·l⁻¹)"}}}},
        {"data": {"name": "obs"}, "transform": [{"filter": "datum.r == 'E'"}], "mark": {"type": "circle", "size": 85, "opacity": 1},
         "encoding": {
           "x": {"field": "y", "type": "quantitative", "scale": {"domain": [1970, 2016], "nice": false, "zero": false}, "axis": {"values": [1970,1975,1980,1985,1990,1995,2000,2005,2010,2015], "format": "d", "title": null}},
           "y": {"field": "v", "type": "quantitative", "scale": {"domain": [0, 50], "nice": false, "zero": false}, "axis": {"values": [0,5,10,15,20,25,30,35,40,45,50], "title": "TN (µmol·l⁻¹)"}},
           "color": {"field": "g", "type": "nominal", "scale": {"domain": ["a","b","c"], "range": ["#4a5056","#1671be","#f9b31b"]}, "legend": null}}},
        {"data": {"values": [{}]}, "mark": {"type": "text", "text": "Eastern Gotland Basin", "fontSize": 19, "fontWeight": 500, "color": "#222222", "baseline": "middle"},
         "encoding": {"x": {"datum": 1993, "type": "quantitative", "scale": {"domain": [1970, 2016], "nice": false, "zero": false}, "axis": {"values": [1970,1975,1980,1985,1990,1995,2000,2005,2010,2015], "format": "d", "title": null}}, "y": {"datum": 59.2, "type": "quantitative", "scale": {"domain": [0, 50], "nice": false, "zero": false}, "axis": {"values": [0,5,10,15,20,25,30,35,40,45,50], "title": "TN (µmol·l⁻¹)"}}}}
      ]
    },
    {
      "width": 503, "height": 255,
      "layer": [
        {"data": {"values": [{}]}, "mark": {"type": "rect", "color": "#d4e1e9"},
         "encoding": {"x": {"datum": 2011, "type": "quantitative", "scale": {"domain": [1970, 2016], "nice": false, "zero": false}, "axis": {"values": [1970,1975,1980,1985,1990,1995,2000,2005,2010,2015], "format": "d", "title": null}}, "x2": {"datum": 2016}}},
        {"data": {"name": "thr"}, "transform": [{"filter": "datum.r == 'G'"}], "mark": {"type": "rule", "color": "#62977a", "strokeWidth": 4},
         "encoding": {"y": {"field": "v", "type": "quantitative", "scale": {"domain": [0, 50], "nice": false, "zero": false}, "axis": {"values": [0,5,10,15,20,25,30,35,40,45,50], "title": "TN (µmol·l⁻¹)"}}}},
        {"data": {"name": "trend"}, "transform": [{"filter": "datum.r == 'G'"}], "mark": {"type": "line", "color": "#474b4f", "strokeWidth": 2.2, "strokeDash": [7, 4]},
         "encoding": {"x": {"field": "y", "type": "quantitative", "scale": {"domain": [1970, 2016], "nice": false, "zero": false}, "axis": {"values": [1970,1975,1980,1985,1990,1995,2000,2005,2010,2015], "format": "d", "title": null}}, "y": {"field": "t", "type": "quantitative", "scale": {"domain": [0, 50], "nice": false, "zero": false}, "axis": {"values": [0,5,10,15,20,25,30,35,40,45,50], "title": "TN (µmol·l⁻¹)"}}}},
        {"data": {"name": "obs"}, "transform": [{"filter": "datum.r == 'G'"}], "mark": {"type": "rule", "color": "#8e9397", "strokeWidth": 2},
         "encoding": {"x": {"field": "y", "type": "quantitative", "scale": {"domain": [1970, 2016], "nice": false, "zero": false}, "axis": {"values": [1970,1975,1980,1985,1990,1995,2000,2005,2010,2015], "format": "d", "title": null}}, "y": {"field": "lo", "type": "quantitative", "scale": {"domain": [0, 50], "nice": false, "zero": false}, "axis": {"values": [0,5,10,15,20,25,30,35,40,45,50], "title": "TN (µmol·l⁻¹)"}}, "y2": {"field": "hi"}}},
        {"data": {"name": "obs"}, "transform": [{"filter": "datum.r == 'G'"}], "mark": {"type": "tick", "orient": "horizontal", "color": "#55595d", "thickness": 1.5, "size": 8},
         "encoding": {"x": {"field": "y", "type": "quantitative", "scale": {"domain": [1970, 2016], "nice": false, "zero": false}, "axis": {"values": [1970,1975,1980,1985,1990,1995,2000,2005,2010,2015], "format": "d", "title": null}}, "y": {"field": "lo", "type": "quantitative", "scale": {"domain": [0, 50], "nice": false, "zero": false}, "axis": {"values": [0,5,10,15,20,25,30,35,40,45,50], "title": "TN (µmol·l⁻¹)"}}}},
        {"data": {"name": "obs"}, "transform": [{"filter": "datum.r == 'G'"}], "mark": {"type": "tick", "orient": "horizontal", "color": "#55595d", "thickness": 1.5, "size": 8},
         "encoding": {"x": {"field": "y", "type": "quantitative", "scale": {"domain": [1970, 2016], "nice": false, "zero": false}, "axis": {"values": [1970,1975,1980,1985,1990,1995,2000,2005,2010,2015], "format": "d", "title": null}}, "y": {"field": "hi", "type": "quantitative", "scale": {"domain": [0, 50], "nice": false, "zero": false}, "axis": {"values": [0,5,10,15,20,25,30,35,40,45,50], "title": "TN (µmol·l⁻¹)"}}}},
        {"data": {"name": "obs"}, "transform": [{"filter": "datum.r == 'G'"}], "mark": {"type": "circle", "size": 85, "opacity": 1},
         "encoding": {
           "x": {"field": "y", "type": "quantitative", "scale": {"domain": [1970, 2016], "nice": false, "zero": false}, "axis": {"values": [1970,1975,1980,1985,1990,1995,2000,2005,2010,2015], "format": "d", "title": null}},
           "y": {"field": "v", "type": "quantitative", "scale": {"domain": [0, 50], "nice": false, "zero": false}, "axis": {"values": [0,5,10,15,20,25,30,35,40,45,50], "title": "TN (µmol·l⁻¹)"}},
           "color": {"field": "g", "type": "nominal", "scale": {"domain": ["a","b","c"], "range": ["#4a5056","#1671be","#f9b31b"]}, "legend": null}}},
        {"data": {"values": [{}]}, "mark": {"type": "text", "text": "Gulf of Finland", "fontSize": 19, "fontWeight": 500, "color": "#222222", "baseline": "middle"},
         "encoding": {"x": {"datum": 1993, "type": "quantitative", "scale": {"domain": [1970, 2016], "nice": false, "zero": false}, "axis": {"values": [1970,1975,1980,1985,1990,1995,2000,2005,2010,2015], "format": "d", "title": null}}, "y": {"datum": 55.7, "type": "quantitative", "scale": {"domain": [0, 50], "nice": false, "zero": false}, "axis": {"values": [0,5,10,15,20,25,30,35,40,45,50], "title": "TN (µmol·l⁻¹)"}}}}
      ]
    },
    {
      "width": 503, "height": 255,
      "layer": [
        {"data": {"values": [{}]}, "mark": {"type": "rect", "color": "#d4e1e9"},
         "encoding": {"x": {"datum": 2011, "type": "quantitative", "scale": {"domain": [1970, 2016], "nice": false, "zero": false}, "axis": {"values": [1970,1975,1980,1985,1990,1995,2000,2005,2010,2015], "format": "d", "title": null}}, "x2": {"datum": 2016}}},
        {"data": {"name": "thr"}, "transform": [{"filter": "datum.r == 'B'"}], "mark": {"type": "rule", "color": "#62977a", "strokeWidth": 4},
         "encoding": {"y": {"field": "v", "type": "quantitative", "scale": {"domain": [0, 50], "nice": false, "zero": false}, "axis": {"values": [0,5,10,15,20,25,30,35,40,45,50], "title": "TN (µmol·l⁻¹)"}}}},
        {"data": {"name": "trend"}, "transform": [{"filter": "datum.r == 'B'"}], "mark": {"type": "line", "color": "#474b4f", "strokeWidth": 2.2, "strokeDash": [7, 4]},
         "encoding": {"x": {"field": "y", "type": "quantitative", "scale": {"domain": [1970, 2016], "nice": false, "zero": false}, "axis": {"values": [1970,1975,1980,1985,1990,1995,2000,2005,2010,2015], "format": "d", "title": null}}, "y": {"field": "t", "type": "quantitative", "scale": {"domain": [0, 50], "nice": false, "zero": false}, "axis": {"values": [0,5,10,15,20,25,30,35,40,45,50], "title": "TN (µmol·l⁻¹)"}}}},
        {"data": {"name": "obs"}, "transform": [{"filter": "datum.r == 'B'"}], "mark": {"type": "rule", "color": "#8e9397", "strokeWidth": 2},
         "encoding": {"x": {"field": "y", "type": "quantitative", "scale": {"domain": [1970, 2016], "nice": false, "zero": false}, "axis": {"values": [1970,1975,1980,1985,1990,1995,2000,2005,2010,2015], "format": "d", "title": null}}, "y": {"field": "lo", "type": "quantitative", "scale": {"domain": [0, 50], "nice": false, "zero": false}, "axis": {"values": [0,5,10,15,20,25,30,35,40,45,50], "title": "TN (µmol·l⁻¹)"}}, "y2": {"field": "hi"}}},
        {"data": {"name": "obs"}, "transform": [{"filter": "datum.r == 'B'"}], "mark": {"type": "tick", "orient": "horizontal", "color": "#55595d", "thickness": 1.5, "size": 8},
         "encoding": {"x": {"field": "y", "type": "quantitative", "scale": {"domain": [1970, 2016], "nice": false, "zero": false}, "axis": {"values": [1970,1975,1980,1985,1990,1995,2000,2005,2010,2015], "format": "d", "title": null}}, "y": {"field": "lo", "type": "quantitative", "scale": {"domain": [0, 50], "nice": false, "zero": false}, "axis": {"values": [0,5,10,15,20,25,30,35,40,45,50], "title": "TN (µmol·l⁻¹)"}}}},
        {"data": {"name": "obs"}, "transform": [{"filter": "datum.r == 'B'"}], "mark": {"type": "tick", "orient": "horizontal", "color": "#55595d", "thickness": 1.5, "size": 8},
         "encoding": {"x": {"field": "y", "type": "quantitative", "scale": {"domain": [1970, 2016], "nice": false, "zero": false}, "axis": {"values": [1970,1975,1980,1985,1990,1995,2000,2005,2010,2015], "format": "d", "title": null}}, "y": {"field": "hi", "type": "quantitative", "scale": {"domain": [0, 50], "nice": false, "zero": false}, "axis": {"values": [0,5,10,15,20,25,30,35,40,45,50], "title": "TN (µmol·l⁻¹)"}}}},
        {"data": {"name": "obs"}, "transform": [{"filter": "datum.r == 'B'"}], "mark": {"type": "circle", "size": 85, "opacity": 1},
         "encoding": {
           "x": {"field": "y", "type": "quantitative", "scale": {"domain": [1970, 2016], "nice": false, "zero": false}, "axis": {"values": [1970,1975,1980,1985,1990,1995,2000,2005,2010,2015], "format": "d", "title": null}},
           "y": {"field": "v", "type": "quantitative", "scale": {"domain": [0, 50], "nice": false, "zero": false}, "axis": {"values": [0,5,10,15,20,25,30,35,40,45,50], "title": "TN (µmol·l⁻¹)"}},
           "color": {"field": "g", "type": "nominal", "scale": {"domain": ["a","b","c"], "range": ["#4a5056","#1671be","#f9b31b"]}, "legend": null}}},
        {"data": {"values": [{}]}, "mark": {"type": "text", "text": "Bothnian Sea", "fontSize": 19, "fontWeight": 500, "color": "#222222", "baseline": "middle"},
         "encoding": {"x": {"datum": 1993, "type": "quantitative", "scale": {"domain": [1970, 2016], "nice": false, "zero": false}, "axis": {"values": [1970,1975,1980,1985,1990,1995,2000,2005,2010,2015], "format": "d", "title": null}}, "y": {"datum": 55.7, "type": "quantitative", "scale": {"domain": [0, 50], "nice": false, "zero": false}, "axis": {"values": [0,5,10,15,20,25,30,35,40,45,50], "title": "TN (µmol·l⁻¹)"}}}}
      ]
    }
  ],
  "config": {
    "view": {"stroke": null},
    "font": "'DejaVu Sans Condensed', 'Liberation Sans Narrow', 'Roboto', sans-serif",
    "axis": {
      "grid": true, "gridDash": [2, 2], "gridColor": "#c8cfd5", "gridWidth": 1,
      "domainColor": "#b8c3cb", "domainWidth": 2.5, "ticks": false,
      "labelFontSize": 16, "labelColor": "#222222", "labelPadding": 12,
      "labelFlush": false, "labelOverlap": false,
      "titleFontSize": 15, "titleFontWeight": "normal", "titleColor": "#222222", "titlePadding": 16
    },
    "axisX": {"labelPadding": 16}
  }
}
